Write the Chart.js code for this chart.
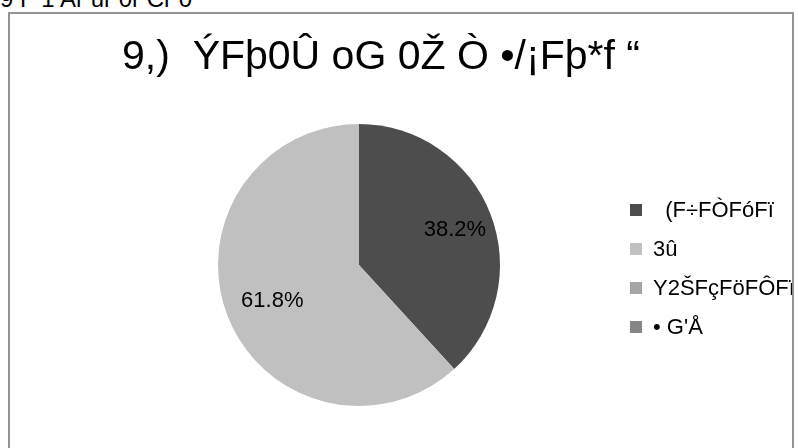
<!DOCTYPE html>
<html>
<head>
<meta charset="utf-8">
<script src="https://cdn.jsdelivr.net/npm/chart.js@4"></script>
<style>
  body { margin: 0; background: #fff; width: 798px; height: 448px; overflow: hidden; position: relative; font-family: "Liberation Sans", Arial, sans-serif; }
  #head { position: absolute; left: 0; top: -13px; font-size: 24px; line-height: 24px; white-space: pre; color: #000; }
  #frame { position: absolute; left: 8px; top: 12px; width: 786px; height: 446px; box-sizing: border-box; border: 2px solid #949494; overflow: hidden; }
  #frame canvas { position: absolute; left: 0; top: 0; }
  #title { position: absolute; left: 122px; top: 35px; font-size: 41px; line-height: 41px; white-space: pre; color: #000; z-index: 2; }
</style>
</head>
<body>
<div id="head">9 F 1 Ar ur 0r Cr 0</div>
<div id="frame"><canvas id="pie" width="782" height="434"></canvas></div>
<div id="title"></div>
<script>
// chart data
const titleText = '9,)  ÝFþ0Û oG 0Ž Ò •/¡Fþ*f “';
const categories = ['  (F÷FÒFóFï', '3û', 'Y2ŠFçFöFÔFï', "• G'Å"];
const values = [38.2, 61.8, 0, 0];
const colors = ['#4d4d4d', '#c0c0c0', '#a5a5a5', '#868686'];

const FONT = '"Liberation Sans", Arial, sans-serif';

document.getElementById('title').textContent = titleText;

// percentage labels inside the slices
const pctLabels = {
  id: 'pctLabels',
  afterDatasetsDraw(chart) {
    const ctx = chart.ctx;
    const meta = chart.getDatasetMeta(0);
    const total = values.reduce((a, b) => a + b, 0);
    ctx.save();
    ctx.font = '22px ' + FONT;
    ctx.fillStyle = '#000';
    ctx.textAlign = 'center';
    ctx.textBaseline = 'middle';
    meta.data.forEach((arc, i) => {
      if (!values[i]) return;
      const p = arc.getProps(['x', 'y', 'startAngle', 'endAngle', 'outerRadius'], true);
      const mid = (p.startAngle + p.endAngle) / 2;
      const r = p.outerRadius * (i === 1 ? 0.66 : 0.73);
      ctx.fillText((values[i] / total * 100).toFixed(1) + '%', p.x + Math.cos(mid) * r, p.y + Math.sin(mid) * r + 2);
    });
    ctx.restore();
  }
};

// legend on the right, Excel style
const sideLegend = {
  id: 'sideLegend',
  afterDraw(chart) {
    const ctx = chart.ctx;
    ctx.save();
    ctx.font = '22px ' + FONT;
    ctx.textBaseline = 'middle';
    ctx.textAlign = 'left';
    categories.forEach((c, i) => {
      const y = 196 + i * 39;
      ctx.fillStyle = colors[i];
      ctx.fillRect(620, y - 6, 12, 12);
      ctx.fillStyle = '#000';
      ctx.fillText(c, 643, y + 1);
    });
    ctx.restore();
  }
};

new Chart(document.getElementById('pie'), {
  type: 'pie',
  data: {
    labels: categories,
    datasets: [{
      data: values,
      backgroundColor: colors,
      borderWidth: 0
    }]
  },
  options: {
    responsive: false,
    animation: false,
    layout: { padding: { left: 112, right: 196, top: 110, bottom: 42 } },
    plugins: {
      legend: { display: false },
      tooltip: { enabled: false },
      title: { display: false }
    }
  },
  plugins: [pctLabels, sideLegend]
});
</script>
</body>
</html>
